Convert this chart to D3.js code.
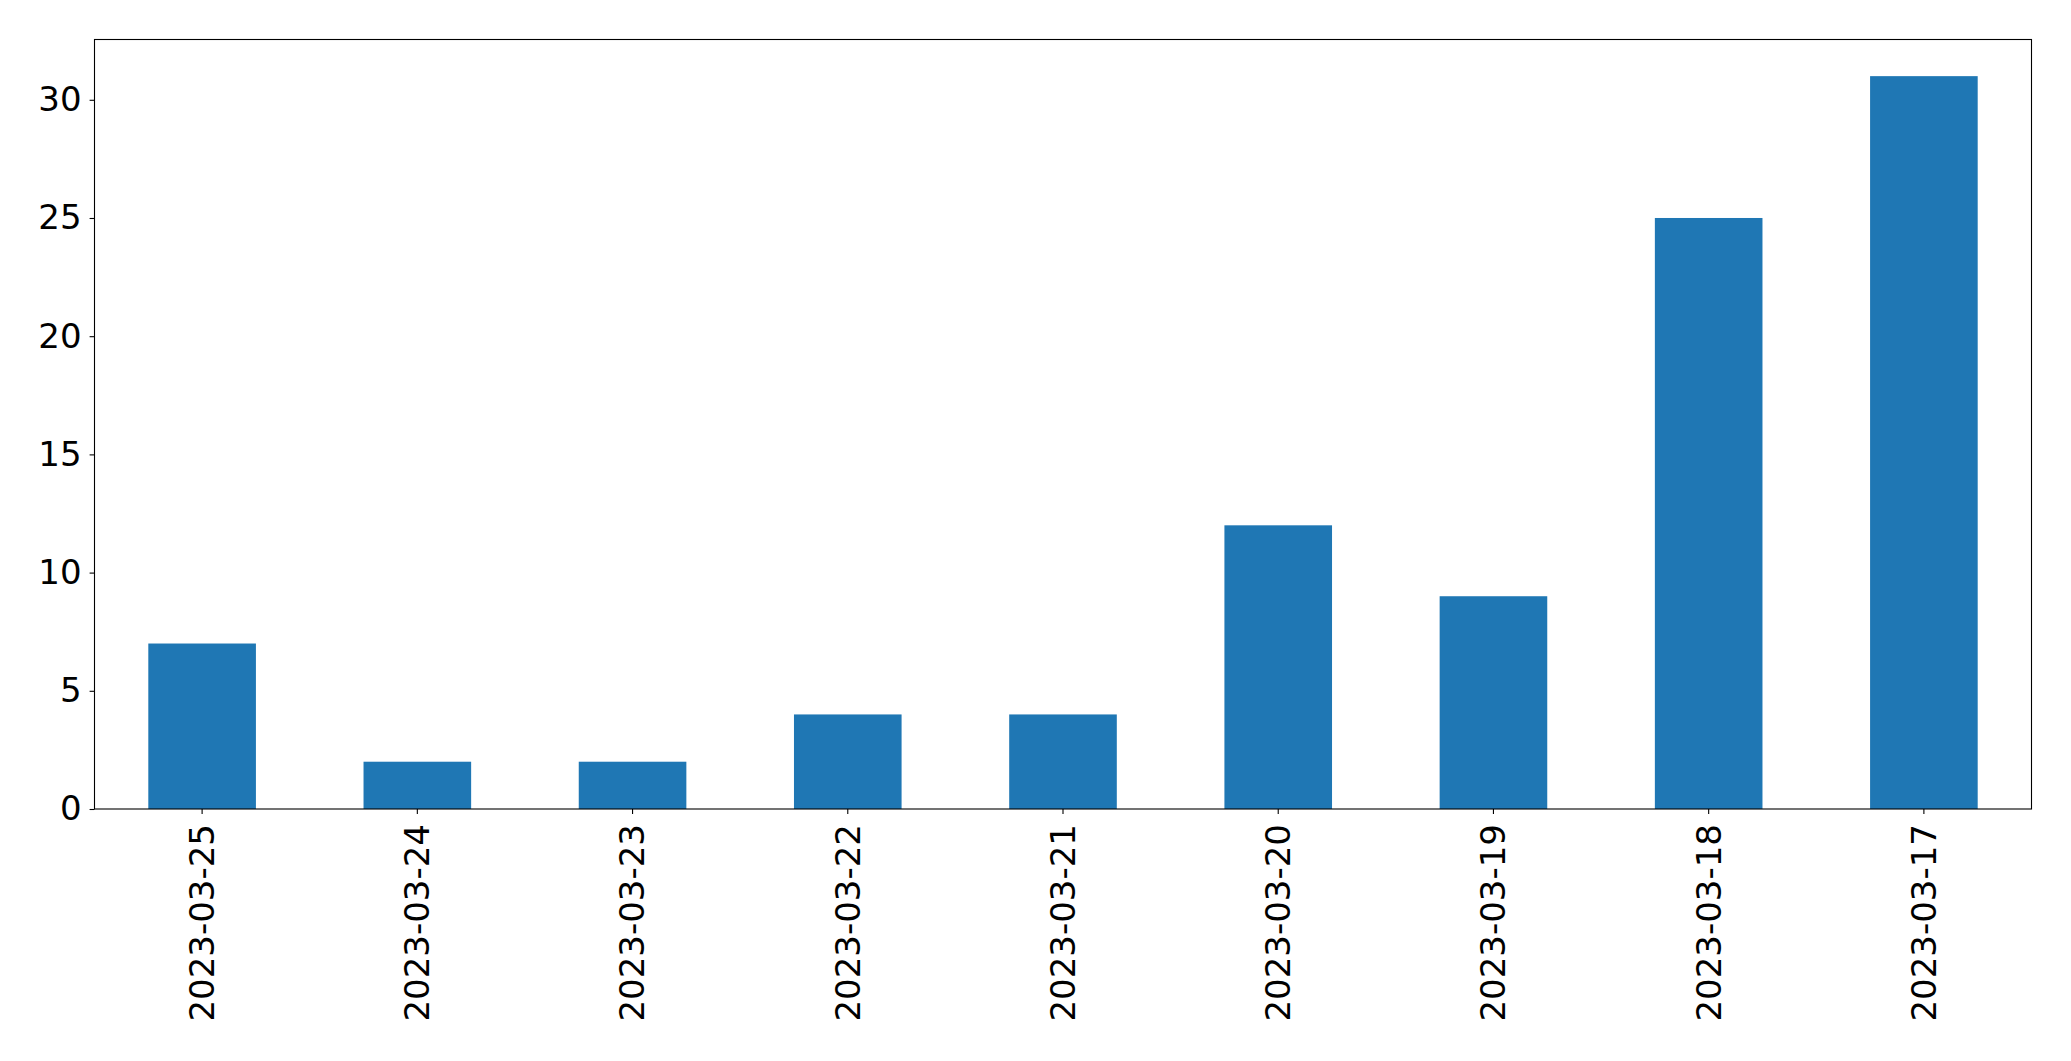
<!DOCTYPE html>
<html>
<head>
<meta charset="utf-8">
<script src="https://cdn.jsdelivr.net/npm/d3@7"></script>
<style>
  body { margin: 0; background: #fff; }
  svg { display: block; }
  text { font-family: "DejaVu Sans", sans-serif; fill: #000; }
</style>
</head>
<body>
<div id="container"></div>
<script>
// data
const dates = ["2023-03-25", "2023-03-24", "2023-03-23", "2023-03-22", "2023-03-21",
               "2023-03-20", "2023-03-19", "2023-03-18", "2023-03-17"];
const counts = [7, 2, 2, 4, 4, 12, 9, 25, 31];
const yTicks = [0, 5, 10, 15, 20, 25, 30];

const W = 2071, H = 1061;
const margin = { left: 94.5, top: 39.5, right: W - 2031.5, bottom: H - 809 };
const w = W - margin.left - margin.right;
const h = H - margin.top - margin.bottom;
const fontSize = 34;

const svg = d3.select("#container")
  .append("svg")
  .attr("width", W)
  .attr("height", H);

const xScale = d3.scaleBand()
  .domain(dates)
  .range([0, w])
  .paddingInner(0.5)
  .paddingOuter(0.25);

const yScale = d3.scaleLinear()
  .domain([0, d3.max(counts) * 1.05])
  .range([h, 0]);

const g = svg.append("g")
  .attr("transform", "translate(" + margin.left + "," + margin.top + ")");

// bars
g.selectAll("rect.bar")
  .data(dates)
  .enter()
  .append("rect")
  .attr("class", "bar")
  .attr("x", d => xScale(d))
  .attr("y", (d, i) => yScale(counts[i]))
  .attr("width", xScale.bandwidth())
  .attr("height", (d, i) => h - yScale(counts[i]))
  .attr("fill", "#1f77b4");

// x axis
const xAxis = d3.axisBottom(xScale).tickSize(4.9).tickPadding(5);
const gx = g.append("g")
  .attr("transform", "translate(0," + h + ")")
  .call(xAxis);
gx.select(".domain").remove();
gx.selectAll(".tick line").attr("stroke", "#000").attr("stroke-width", 1.1);
gx.selectAll(".tick text")
  .attr("font-size", fontSize)
  .attr("font-family", "DejaVu Sans")
  .attr("text-anchor", "end")
  .attr("y", 0)
  .attr("dy", "0.35em")
  .attr("transform", "translate(0,15) rotate(-90)");

// y axis
const yAxis = d3.axisLeft(yScale).tickValues(yTicks).tickSize(4.9).tickPadding(8);
const gy = g.append("g").call(yAxis);
gy.select(".domain").remove();
gy.selectAll(".tick line").attr("stroke", "#000").attr("stroke-width", 1.1);
gy.selectAll(".tick text")
  .attr("font-size", fontSize)
  .attr("font-family", "DejaVu Sans");

// frame
g.append("rect")
  .attr("x", 0)
  .attr("y", 0)
  .attr("width", w)
  .attr("height", h)
  .attr("fill", "none")
  .attr("stroke", "#000")
  .attr("stroke-width", 1.1);
</script>
</body>
</html>
